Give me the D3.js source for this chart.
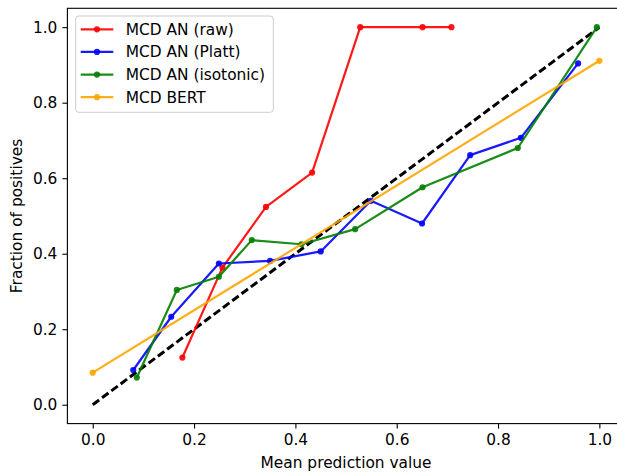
<!DOCTYPE html>
<html>
<head>
<meta charset="utf-8">
<script src="https://cdn.jsdelivr.net/npm/d3@7"></script>
<style>
  html, body { margin: 0; padding: 0; background: #fff; }
  svg { display: block; font-family: "DejaVu Sans", sans-serif; }
</style>
</head>
<body>
<svg id="chart" width="617" height="473"></svg>
<script>
// ---- data ----
const seriesNames = ["MCD AN (raw)", "MCD AN (Platt)", "MCD AN (isotonic)", "MCD BERT"];
const seriesColors = ["#ff0000", "#0000ff", "#008000", "#ffa500"];

const rawX = [0.177, 0.256, 0.342, 0.433, 0.528, 0.651, 0.708];
const rawY = [0.125, 0.363, 0.524, 0.615, 1.0, 1.0, 1.0];

const plattX = [0.080, 0.155, 0.249, 0.350, 0.450, 0.549, 0.650, 0.745, 0.845, 0.958];
const plattY = [0.092, 0.233, 0.374, 0.381, 0.406, 0.540, 0.480, 0.661, 0.707, 0.904];

const isoX = [0.087, 0.166, 0.249, 0.314, 0.412, 0.518, 0.651, 0.839, 0.995];
const isoY = [0.072, 0.304, 0.339, 0.436, 0.425, 0.465, 0.576, 0.680, 1.0];

const bertX = [0.0, 1.0];
const bertY = [0.085, 0.911];

const diagX = [0, 1];
const diagY = [0, 1];

const xTicks = [0.0, 0.2, 0.4, 0.6, 0.8, 1.0];
const yTicks = [0.0, 0.2, 0.4, 0.6, 0.8, 1.0];
const xLabel = "Mean prediction value";
const yLabel = "Fraction of positives";

// ---- layout ----
const svg = d3.select("#chart");
const mLeft = 67.4, mTop = 8.3, mRight = 624.7, mBottom = 423.6;
const x = d3.scaleLinear().domain([-0.05, 1.05]).range([mLeft, mRight]);
const y = d3.scaleLinear().domain([-0.05, 1.05]).range([mBottom, mTop]);
const fs = 15.4;

const toPts = (xs, ys) => xs.map((v, i) => [v, ys[i]]);
const series = [
  toPts(rawX, rawY),
  toPts(plattX, plattY),
  toPts(isoX, isoY),
  toPts(bertX, bertY)
];

const line = d3.line().x(d => x(d[0])).y(d => y(d[1]));

// axes
const xAxis = d3.axisBottom(x).tickValues(xTicks).tickFormat(d3.format(".1f")).tickSize(5).tickPadding(5);
const yAxis = d3.axisLeft(y).tickValues(yTicks).tickFormat(d3.format(".1f")).tickSize(5).tickPadding(5);

const gx = svg.append("g").attr("transform", `translate(0,${mBottom})`).call(xAxis);
const gy = svg.append("g").attr("transform", `translate(${mLeft},0)`).call(yAxis);
[gx, gy].forEach(g => {
  g.select(".domain").remove();
  g.selectAll(".tick line").attr("stroke", "#000").attr("stroke-width", 1.1);
  g.selectAll(".tick text").attr("fill", "#000").style("font-size", fs + "px").style("font-family", "DejaVu Sans");
});

// frame (spines)
svg.append("rect")
  .attr("x", mLeft).attr("y", mTop)
  .attr("width", mRight - mLeft).attr("height", mBottom - mTop)
  .attr("fill", "none").attr("stroke", "#000").attr("stroke-width", 1.1);

// plot lines
const plot = svg.append("g");

plot.append("path")
  .datum(toPts(diagX, diagY))
  .attr("d", line)
  .attr("fill", "none")
  .attr("stroke", "#000")
  .attr("stroke-width", 3)
  .attr("stroke-dasharray", "8,3.6");

series.forEach((pts, i) => {
  const g = plot.append("g");
  g.append("path")
    .datum(pts)
    .attr("d", line)
    .attr("fill", "none")
    .attr("stroke", seriesColors[i])
    .attr("stroke-width", 2.2)
    .attr("stroke-opacity", 0.9)
    .attr("stroke-linejoin", "round");
  g.selectAll("circle")
    .data(pts)
    .enter().append("circle")
    .attr("cx", d => x(d[0]))
    .attr("cy", d => y(d[1]))
    .attr("r", 3.1)
    .attr("fill", seriesColors[i])
    .attr("fill-opacity", 0.9);
});

// axis labels
svg.append("text")
  .attr("x", (mLeft + mRight) / 2)
  .attr("y", 468)
  .attr("text-anchor", "middle")
  .style("font-size", fs + "px")
  .text(xLabel);

svg.append("text")
  .attr("transform", `translate(22,${(mTop + mBottom) / 2}) rotate(-90)`)
  .attr("text-anchor", "middle")
  .style("font-size", fs + "px")
  .text(yLabel);

// legend
const lg = svg.append("g");
lg.append("rect")
  .attr("x", 75.7).attr("y", 16)
  .attr("width", 197.6).attr("height", 96.3)
  .attr("rx", 3).attr("ry", 3)
  .attr("fill", "#fff").attr("fill-opacity", 0.8)
  .attr("stroke", "#cccccc").attr("stroke-width", 1);

const rowY = [29.3, 51.9, 74.6, 97.2];
seriesNames.forEach((name, i) => {
  lg.append("line")
    .attr("x1", 80.7).attr("x2", 113.3)
    .attr("y1", rowY[i]).attr("y2", rowY[i])
    .attr("stroke", seriesColors[i]).attr("stroke-width", 2.2).attr("stroke-opacity", 0.9);
  lg.append("circle")
    .attr("cx", 97).attr("cy", rowY[i]).attr("r", 3.1)
    .attr("fill", seriesColors[i]).attr("fill-opacity", 0.9);
  lg.append("text")
    .attr("x", 125.7).attr("y", rowY[i])
    .attr("dy", "0.36em")
    .style("font-size", fs + "px")
    .text(name);
});
</script>
</body>
</html>
